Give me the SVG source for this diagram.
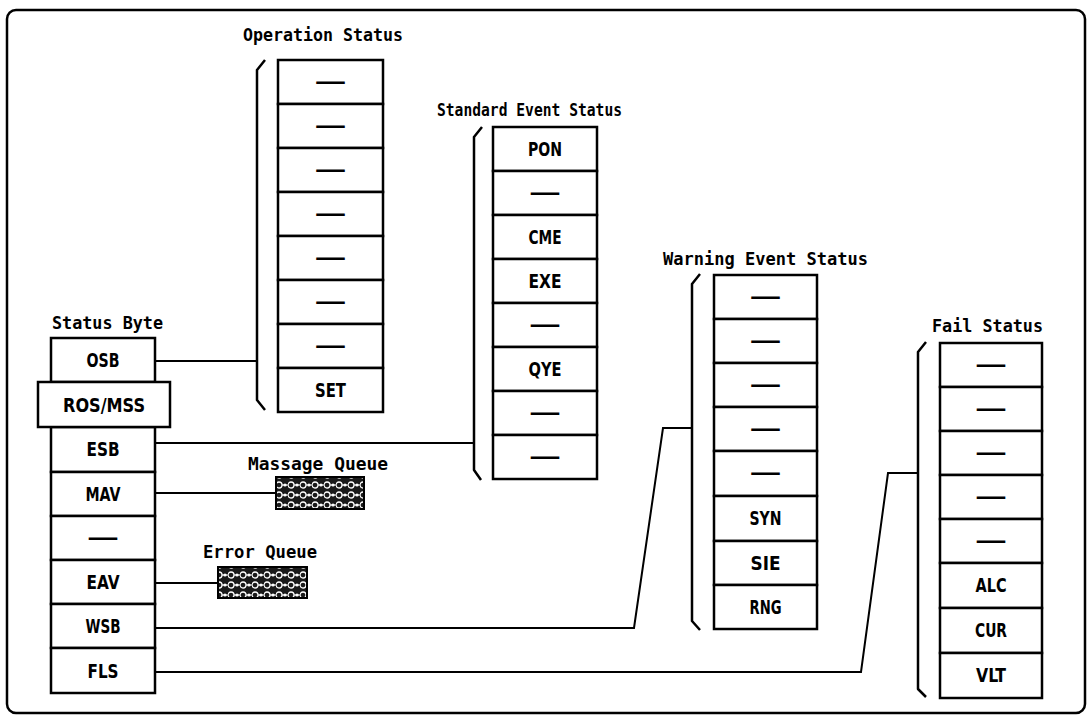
<svg xmlns="http://www.w3.org/2000/svg" width="1088" height="716" viewBox="0 0 1088 716">
<style>
.cell{fill:#fff;stroke:#000;stroke-width:2.5}
.lbl{font-family:"DejaVu Sans Condensed","DejaVu Sans",sans-serif;font-weight:bold;font-size:19px;fill:#000;text-anchor:middle}
.hdr{font-family:"DejaVu Sans Mono","Liberation Mono",monospace;font-weight:bold;font-size:18px;fill:#000}
.br{fill:none;stroke:#000;stroke-width:2.5;stroke-linejoin:round}
.con{fill:none;stroke:#000;stroke-width:2}
.q{fill:url(#qp);stroke:#000;stroke-width:2}
</style>
<defs>
<pattern id="qp" patternUnits="userSpaceOnUse" x="0" y="0" width="12" height="10">
<rect width="12" height="10" fill="#1a1a1a"/>
<line x1="0" y1="5" x2="12" y2="5" stroke="#fff" stroke-width="1.2"/>
<circle cx="3" cy="5" r="3" fill="#1a1a1a" stroke="#fff" stroke-width="1.3"/>
<circle cx="9" cy="5" r="1.6" fill="#fff"/>
</pattern>
</defs>
<rect x="7" y="10" width="1078" height="703" rx="9" fill="#fff" stroke="#000" stroke-width="2.5"/>

<g id="connectors">
<path class="con" d="M155,361 H257"/>
<path class="con" d="M155,443 H474"/>
<path class="con" d="M155,493 H276"/>
<path class="con" d="M155,583 H218"/>
<path class="con" d="M155,628 H634 L663,428 H692"/>
<path class="con" d="M155,672 H861 L888,473 H918"/>
</g>

<g id="status-byte">
<text class="hdr" x="52" y="329" textLength="111" lengthAdjust="spacingAndGlyphs">Status Byte</text>
<rect class="cell" x="51" y="338" width="104" height="44"/><text class="lbl" x="103" y="367" textLength="33" lengthAdjust="spacingAndGlyphs">OSB</text>
<rect class="cell" x="51" y="427" width="104" height="45"/><text class="lbl" x="103" y="456" textLength="33" lengthAdjust="spacingAndGlyphs">ESB</text>
<rect class="cell" x="51" y="472" width="104" height="44"/><text class="lbl" x="103" y="501" textLength="35" lengthAdjust="spacingAndGlyphs">MAV</text>
<rect class="cell" x="51" y="516" width="104" height="44"/><text class="lbl" x="103" y="544" textLength="32" lengthAdjust="spacingAndGlyphs">—</text>
<rect class="cell" x="51" y="560" width="104" height="44"/><text class="lbl" x="103" y="589" textLength="33" lengthAdjust="spacingAndGlyphs">EAV</text>
<rect class="cell" x="51" y="604" width="104" height="44"/><text class="lbl" x="103" y="633" textLength="35" lengthAdjust="spacingAndGlyphs">WSB</text>
<rect class="cell" x="51" y="648" width="104" height="45"/><text class="lbl" x="103" y="678" textLength="31" lengthAdjust="spacingAndGlyphs">FLS</text>
<rect class="cell" x="38" y="382" width="132" height="45"/><text class="lbl" x="104" y="412" textLength="82" lengthAdjust="spacingAndGlyphs">ROS/MSS</text>
</g>

<g id="massage-queue">
<text class="hdr" x="248" y="470" textLength="140" lengthAdjust="spacingAndGlyphs">Massage Queue</text>
<rect class="q" x="276" y="477" width="88" height="32"/>
</g>

<g id="error-queue">
<text class="hdr" x="203" y="558" textLength="114" lengthAdjust="spacingAndGlyphs">Error Queue</text>
<rect class="q" x="218" y="567" width="89" height="31"/>
</g>

<g id="operation-status">
<text class="hdr" x="243" y="41" textLength="160" lengthAdjust="spacingAndGlyphs">Operation Status</text>
<path class="br" d="M265,60 L257,70 L257,400 L265,410"/>
<rect class="cell" x="278" y="60" width="105" height="44"/><text class="lbl" x="330.5" y="88" textLength="32" lengthAdjust="spacingAndGlyphs">—</text>
<rect class="cell" x="278" y="104" width="105" height="44"/><text class="lbl" x="330.5" y="132" textLength="32" lengthAdjust="spacingAndGlyphs">—</text>
<rect class="cell" x="278" y="148" width="105" height="44"/><text class="lbl" x="330.5" y="176" textLength="32" lengthAdjust="spacingAndGlyphs">—</text>
<rect class="cell" x="278" y="192" width="105" height="44"/><text class="lbl" x="330.5" y="220" textLength="32" lengthAdjust="spacingAndGlyphs">—</text>
<rect class="cell" x="278" y="236" width="105" height="44"/><text class="lbl" x="330.5" y="264" textLength="32" lengthAdjust="spacingAndGlyphs">—</text>
<rect class="cell" x="278" y="280" width="105" height="44"/><text class="lbl" x="330.5" y="308" textLength="32" lengthAdjust="spacingAndGlyphs">—</text>
<rect class="cell" x="278" y="324" width="105" height="44"/><text class="lbl" x="330.5" y="352" textLength="32" lengthAdjust="spacingAndGlyphs">—</text>
<rect class="cell" x="278" y="368" width="105" height="44"/><text class="lbl" x="330.5" y="397" textLength="31" lengthAdjust="spacingAndGlyphs">SET</text>
</g>

<g id="standard-event-status">
<text class="hdr" x="437" y="116" textLength="185" lengthAdjust="spacingAndGlyphs">Standard Event Status</text>
<path class="br" d="M482,127 L474,137 L474,470 L481,480"/>
<rect class="cell" x="493" y="127" width="104" height="44"/><text class="lbl" x="545" y="156" textLength="34" lengthAdjust="spacingAndGlyphs">PON</text>
<rect class="cell" x="493" y="171" width="104" height="44"/><text class="lbl" x="545" y="199" textLength="32" lengthAdjust="spacingAndGlyphs">—</text>
<rect class="cell" x="493" y="215" width="104" height="44"/><text class="lbl" x="545" y="244" textLength="33" lengthAdjust="spacingAndGlyphs">CME</text>
<rect class="cell" x="493" y="259" width="104" height="44"/><text class="lbl" x="545" y="288" textLength="33" lengthAdjust="spacingAndGlyphs">EXE</text>
<rect class="cell" x="493" y="303" width="104" height="44"/><text class="lbl" x="545" y="331" textLength="32" lengthAdjust="spacingAndGlyphs">—</text>
<rect class="cell" x="493" y="347" width="104" height="44"/><text class="lbl" x="545" y="376" textLength="33" lengthAdjust="spacingAndGlyphs">QYE</text>
<rect class="cell" x="493" y="391" width="104" height="44"/><text class="lbl" x="545" y="419" textLength="32" lengthAdjust="spacingAndGlyphs">—</text>
<rect class="cell" x="493" y="435" width="104" height="44"/><text class="lbl" x="545" y="463" textLength="32" lengthAdjust="spacingAndGlyphs">—</text>
</g>

<g id="warning-event-status">
<text class="hdr" x="663" y="265" textLength="205" lengthAdjust="spacingAndGlyphs">Warning Event Status</text>
<path class="br" d="M700,274 L692,284 L692,621 L700,630"/>
<rect class="cell" x="714" y="275" width="103" height="44"/><text class="lbl" x="765.5" y="303" textLength="32" lengthAdjust="spacingAndGlyphs">—</text>
<rect class="cell" x="714" y="319" width="103" height="44"/><text class="lbl" x="765.5" y="347" textLength="32" lengthAdjust="spacingAndGlyphs">—</text>
<rect class="cell" x="714" y="363" width="103" height="44"/><text class="lbl" x="765.5" y="391" textLength="32" lengthAdjust="spacingAndGlyphs">—</text>
<rect class="cell" x="714" y="407" width="103" height="44"/><text class="lbl" x="765.5" y="435" textLength="32" lengthAdjust="spacingAndGlyphs">—</text>
<rect class="cell" x="714" y="451" width="103" height="45"/><text class="lbl" x="765.5" y="479" textLength="32" lengthAdjust="spacingAndGlyphs">—</text>
<rect class="cell" x="714" y="496" width="103" height="45"/><text class="lbl" x="765.5" y="525" textLength="32" lengthAdjust="spacingAndGlyphs">SYN</text>
<rect class="cell" x="714" y="541" width="103" height="44"/><text class="lbl" x="765.5" y="570" textLength="30" lengthAdjust="spacingAndGlyphs">SIE</text>
<rect class="cell" x="714" y="585" width="103" height="44"/><text class="lbl" x="765.5" y="614" textLength="32" lengthAdjust="spacingAndGlyphs">RNG</text>
</g>

<g id="fail-status">
<text class="hdr" x="932" y="332" textLength="111" lengthAdjust="spacingAndGlyphs">Fail Status</text>
<path class="br" d="M926,342 L918,352 L918,689 L926,697"/>
<rect class="cell" x="940" y="343" width="102" height="44"/><text class="lbl" x="991" y="371" textLength="32" lengthAdjust="spacingAndGlyphs">—</text>
<rect class="cell" x="940" y="387" width="102" height="44"/><text class="lbl" x="991" y="415" textLength="32" lengthAdjust="spacingAndGlyphs">—</text>
<rect class="cell" x="940" y="431" width="102" height="44"/><text class="lbl" x="991" y="459" textLength="32" lengthAdjust="spacingAndGlyphs">—</text>
<rect class="cell" x="940" y="475" width="102" height="44"/><text class="lbl" x="991" y="503" textLength="32" lengthAdjust="spacingAndGlyphs">—</text>
<rect class="cell" x="940" y="519" width="102" height="44"/><text class="lbl" x="991" y="547" textLength="32" lengthAdjust="spacingAndGlyphs">—</text>
<rect class="cell" x="940" y="563" width="102" height="45"/><text class="lbl" x="991" y="592" textLength="31" lengthAdjust="spacingAndGlyphs">ALC</text>
<rect class="cell" x="940" y="608" width="102" height="45"/><text class="lbl" x="991" y="637" textLength="32" lengthAdjust="spacingAndGlyphs">CUR</text>
<rect class="cell" x="940" y="653" width="102" height="45"/><text class="lbl" x="991" y="682" textLength="30" lengthAdjust="spacingAndGlyphs">VLT</text>
</g>
</svg>
